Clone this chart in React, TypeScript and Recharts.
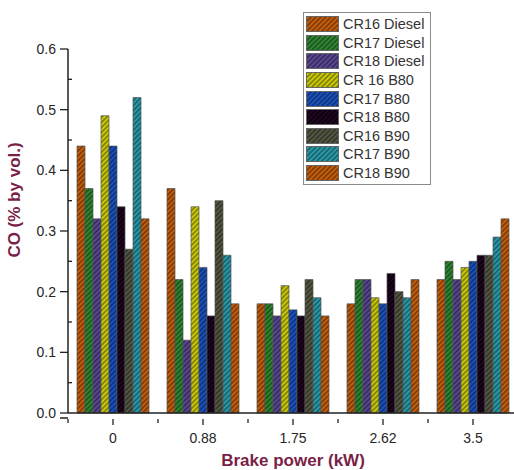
import React from "react";
import { BarChart, Bar, XAxis, YAxis } from "recharts";

const categories = ["0", "0.88", "1.75", "2.62", "3.5"];
const seriesNames = [
  "CR16 Diesel",
  "CR17 Diesel",
  "CR18 Diesel",
  "CR 16 B80",
  "CR17 B80",
  "CR18 B80",
  "CR16 B90",
  "CR17 B90",
  "CR18 B90",
];
const cr16Diesel = [0.44, 0.37, 0.18, 0.18, 0.22];
const cr17Diesel = [0.37, 0.22, 0.18, 0.22, 0.25];
const cr18Diesel = [0.32, 0.12, 0.16, 0.22, 0.22];
const cr16B80 = [0.49, 0.34, 0.21, 0.19, 0.24];
const cr17B80 = [0.44, 0.24, 0.17, 0.18, 0.25];
const cr18B80 = [0.34, 0.16, 0.16, 0.23, 0.26];
const cr16B90 = [0.27, 0.35, 0.22, 0.2, 0.26];
const cr17B90 = [0.52, 0.26, 0.19, 0.19, 0.29];
const cr18B90 = [0.32, 0.18, 0.16, 0.22, 0.32];
const seriesValues = [
  cr16Diesel,
  cr17Diesel,
  cr18Diesel,
  cr16B80,
  cr17B80,
  cr18B80,
  cr16B90,
  cr17B90,
  cr18B90,
];
const yTicks = [0, 0.05, 0.1, 0.15, 0.2, 0.25, 0.3, 0.35, 0.4, 0.45, 0.5, 0.55, 0.6];
const xTitle = "Brake power (kW)";
const yTitle = "CO (% by vol.)";

const baseColors = ["#c35f0c", "#2f8632", "#5a4791", "#c9c90a", "#1a52bd", "#220524", "#545743", "#2c98a6", "#c35f0c"];
const stripeColors = ["#6b2f02", "#17461a", "#2e2352", "#6c6c00", "#0b2a66", "#000000", "#2a2b20", "#125560", "#6b2f02"];

const data = categories.map((c, i) => {
  const row: Record<string, string | number> = { cat: c };
  seriesNames.forEach((s, k) => {
    row[s] = seriesValues[k][i];
  });
  return row;
});

const textColor = "#262626";
const titleColor = "#7a1f48";
const font = "'Liberation Sans', Arial, sans-serif";

const YTick = (props: any) => {
  const { x, y, payload, index } = props;
  const axisX = x + 10;
  const major = index % 2 === 0;
  return (
    <g>
      {major ? (
        <line x1={axisX - 8} y1={y} x2={axisX} y2={y} stroke="#222" strokeWidth={1.3} />
      ) : (
        <line x1={axisX} y1={y} x2={axisX + 4} y2={y} stroke="#222" strokeWidth={1.3} />
      )}
      {major && (
        <text x={x - 2} y={y} dy={5} textAnchor="end" fontSize={14} fill={textColor} fontFamily={font}>
          {Number(payload.value).toFixed(1)}
        </text>
      )}
    </g>
  );
};

const XTick = (props: any) => {
  const { x, y, payload, index, visibleTicksCount } = props;
  const axisY = y - 2;
  const off = payload.offset || 0;
  return (
    <g>
      {index === 0 && (
        <line x1={x - off - 8} y1={axisY - 1} x2={x - off} y2={axisY - 1} stroke="#222" strokeWidth={1.5} />
      )}
      <line x1={x} y1={axisY} x2={x} y2={axisY + 6} stroke="#222" strokeWidth={1.3} />
      <line x1={x - off} y1={axisY} x2={x - off} y2={axisY + 4} stroke="#222" strokeWidth={1.3} />
      {index === visibleTicksCount - 1 && (
        <line x1={x + off} y1={axisY} x2={x + off} y2={axisY + 4} stroke="#222" strokeWidth={1.3} />
      )}
      <text x={x} y={axisY + 24} textAnchor="middle" fontSize={14} fill={textColor} fontFamily={font}>
        {payload.value}
      </text>
    </g>
  );
};

const LegendBox = () => (
  <div
    style={{
      position: "absolute",
      left: 303,
      top: 12,
      border: "1px solid #8a8a8a",
      background: "#fff",
      padding: "2px 2px 2px 2px",
      width: 122,
      fontFamily: font,
      fontSize: 14.5,
      color: "#333",
    }}
  >
    {seriesNames.map((s, k) => (
      <div key={s} style={{ display: "flex", alignItems: "center", height: 18.6 }}>
        <svg width={33} height={16} style={{ display: "block", marginRight: 4 }}>
          <rect x={0.5} y={0.5} width={32} height={15} fill={`url(#hatch${k})`} stroke="#666" strokeWidth={1} />
        </svg>
        <span style={{ whiteSpace: "pre", lineHeight: "16px" }}>{s}</span>
      </div>
    ))}
  </div>
);

export default function App() {
  return (
    <div style={{ position: "absolute", left: 0, top: 0, width: 514, height: 470, overflow: "hidden", background: "#fff" }}>
      <svg width={0} height={0} style={{ position: "absolute" }}>
        <defs>
          {baseColors.map((c, k) => (
            <pattern
              key={k}
              id={`hatch${k}`}
              patternUnits="userSpaceOnUse"
              width={3.5}
              height={3.5}
              patternTransform="rotate(45)"
            >
              <rect x={0} y={0} width={3.5} height={3.5} fill={c} />
              <line x1={0.8} y1={0} x2={0.8} y2={3.5} stroke={stripeColors[k]} strokeWidth={1.3} />
            </pattern>
          ))}
        </defs>
      </svg>
      <BarChart
        width={518}
        height={470}
        data={data}
        margin={{ top: 49, right: 0, bottom: 0, left: 0 }}
        barCategoryGap="10%"
        barGap={0}
      >
        <XAxis
          dataKey="cat"
          height={57}
          axisLine={{ stroke: "#222", strokeWidth: 1.5 }}
          tickLine={false}
          tick={<XTick />}
          interval={0}
        />
        <YAxis
          width={68}
          domain={[0, 0.6]}
          ticks={yTicks}
          interval={0}
          axisLine={{ stroke: "#222", strokeWidth: 1.5 }}
          tickLine={false}
          tickSize={8}
          tickMargin={2}
          tick={<YTick />}
        />
        {seriesNames.map((s, k) => (
          <Bar
            key={s}
            dataKey={s}
            fill={`url(#hatch${k})`}
            stroke="#555"
            strokeWidth={0.7}
            label={false}
            isAnimationActive={false}
          />
        ))}
      </BarChart>
      <LegendBox />
      <svg width={514} height={470} style={{ position: "absolute", left: 0, top: 0, pointerEvents: "none" }}>
        <text x={293} y={466} textAnchor="middle" fontSize={17} fontWeight="bold" fill={titleColor} fontFamily={font}>
          {xTitle}
        </text>
        <text
          x={20}
          y={200}
          transform="rotate(-90 20 200)"
          textAnchor="middle"
          fontSize={17}
          fontWeight="bold"
          fill={titleColor}
          fontFamily={font}
        >
          {yTitle}
        </text>
      </svg>
    </div>
  );
}
